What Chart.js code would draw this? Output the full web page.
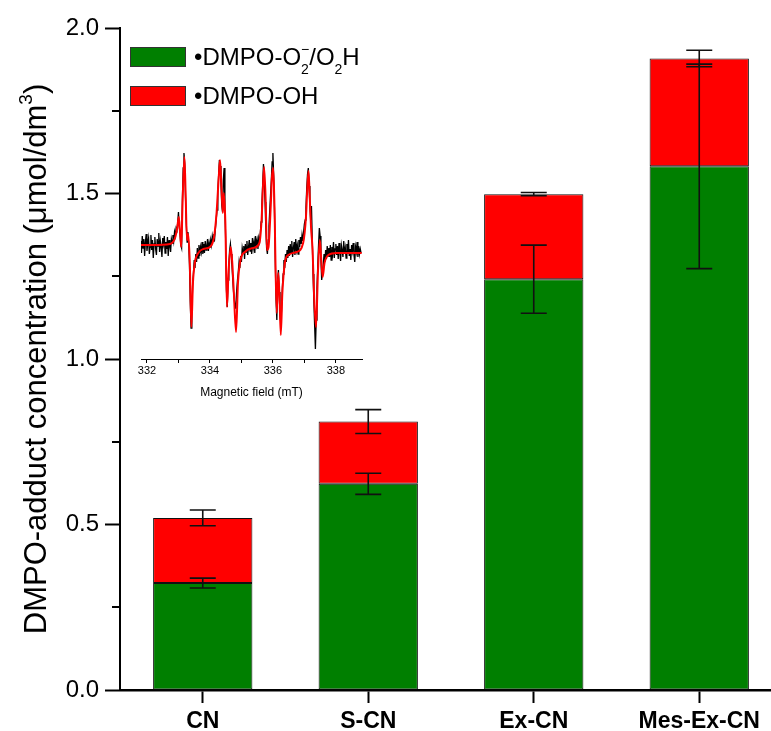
<!DOCTYPE html>
<html>
<head>
<meta charset="utf-8">
<script src="https://cdn.jsdelivr.net/npm/chart.js@4.4.1/dist/chart.umd.min.js"></script>
<style>
  html, body { margin: 0; padding: 0; overflow: hidden; background: #fff; }
  #wrap { position: relative; width: 771px; height: 731px; overflow: hidden; }
  #main { position: absolute; left: 0; top: 0; }
  #inset { position: absolute; left: 120px; top: 140px; }
</style>
</head>
<body>
<div id="wrap">
  <canvas id="main" width="782" height="731"></canvas>
  <canvas id="inset" width="260" height="260"></canvas>
</div>
<script>
const FONT = "'Liberation Sans', Arial, sans-serif";
Chart.defaults.font.family = FONT;
Chart.defaults.color = "#000";

// spin-trap adduct concentrations, umol/dm3
const samples = ["CN", "S-CN", "Ex-CN", "Mes-Ex-CN"];
const superoxide = [0.323, 0.623, 1.241, 1.582];
const hydroxyl = [0.197, 0.188, 0.257, 0.326];
const superoxideErr = [0.015, 0.032, 0.103, 0.309];
const totalErr = [0.024, 0.036, 0.005, 0.025];
const yTicks = [0, 0.5, 1.0, 1.5, 2.0];
const yMinorTicks = [0.25, 0.75, 1.25, 1.75];

// EPR spectrum for the inset (field in mT, signal in arb. units)
const fieldStart = 331.8;
const fieldStep = 0.025;
const eprMeasured = [
  9, -3, 14, 2, 11, -6, 8, 16, -1, 7,
  12, -4, 3, 15, 0, 10, -8, 6, 13, 1,
  -5, 11, 4, 17, -2, 9, 3, -7, 12, 6,
  14, -3, 8, 1, 13, -6, 10, 4, -2, 11,
  7, 15, 9, 18, 14, 22, 20, 27, 38, 24,
  16, 5, 2, 50, 82, 97, 86, 52, 25, 8,
  18, 6, -15, -52, -78, -62, -35, -24, -10, -18,
  -4, -12, 2, -8, 5, -6, 3, -2, 8, -4,
  6, -3, 9, 0, 4, 11, -1, 7, 2, 10,
  5, 14, 9, 16, 12, 22, 31, 40, 58, 74,
  90, 84, 66, 45, 38, 70, 82, 40, 10, -40,
  -57, -30, -14, 0, 6, -4, -16, -30, -42, -50,
  -58, -55, -40, -30, -22, -12, -18, -6, -12, 2,
  -3, 4, -9, 6, -2, 9, -5, 3, 10, -1,
  7, -4, 12, 2, 8, -3, 14, 5, 10, 1,
  12, 8, 17, 28, 45, 66, 86, 72, 48, 22,
  2, -4, 10, 24, 40, 55, 70, 88, 97, 74,
  40, -10, -50, -70, -30, -20, -42, -66, -72, -60,
  -38, -24, -10, -18, -4, -12, 0, -8, 4, -6,
  6, -3, 9, -7, 2, 8, -5, 11, 0, 5,
  -4, 10, 3, 13, 6, 15, 9, 18, 26, 30,
  42, 62, 76, 82, 64, 44, 30, 44, 10, -24,
  -50, -75, -99, -70, -38, -15, 5, 22, 14, -10,
  -30, -22, -14, -4, -12, 0, -9, 4, -6, 2,
  -7, 5, -10, 3, -3, 8, -8, 1, 6, -5,
  4, -9, 7, -2, -11, 5, 0, -7, 9, -4,
  2, -8, 6, -3, 10, -6, 1, -10, 5, -1,
  7, -5, -12, 3, -2, 8, -7, 4, -4, 1,
  -3
];
const fitField = [
  331.81, 332.20, 332.73, 332.89, 332.96, 333.01, 333.05, 333.09, 333.13, 333.19,
  333.23, 333.27, 333.31, 333.36, 333.41, 333.46, 333.52, 333.63, 333.79, 334.00,
  334.13, 334.21, 334.28, 334.32, 334.36, 334.41, 334.44, 334.49, 334.54, 334.59,
  334.66, 334.71, 334.76, 334.83, 334.89, 334.97, 335.11, 335.37, 335.57, 335.64,
  335.68, 335.72, 335.77, 335.81, 335.86, 335.93, 335.97, 336.01, 336.05, 336.12,
  336.17, 336.21, 336.25, 336.30, 336.38, 336.49, 336.75, 336.96, 337.05, 337.09,
  337.13, 337.17, 337.21, 337.26, 337.31, 337.37, 337.43, 337.49, 337.53, 337.58,
  337.64, 337.76, 338.02, 338.82
];
const fitSignal = [
  5, 5, 6, 12, 22, 33, 18, 3, 47, 93,
  53, 10, 16, -13, -77, -33, -13, -3, 1, 3,
  13, 37, 73, 90, 67, 37, 57, 27, -57, -23,
  3, -13, -43, -82, -33, -10, -2, 2, 7, 30,
  60, 83, 50, 0, 3, 43, 73, 82, 43, -63,
  -23, -47, -85, -43, -13, -5, -2, 7, 33, 60,
  79, 53, 23, 0, -47, -77, -23, 10, -7, -27,
  -13, -5, -3, -3
];
const fieldTicks = [332, 334, 336, 338];

// text with sub/superscripts: {t}, {sub}, {sup}
function richWidth(ctx, parts, size) {
  let w = 0;
  parts.forEach(p => {
    if (p.t) {
      ctx.font = size + "px " + FONT;
      w += ctx.measureText(p.t).width;
    } else {
      ctx.font = Math.round(size * 0.6) + "px " + FONT;
      w += Math.max(p.sub ? ctx.measureText(p.sub).width : 0, p.sup ? ctx.measureText(p.sup).width : 0);
    }
  });
  return w;
}
function drawRich(ctx, parts, x, y, size) {
  ctx.textAlign = "left";
  ctx.textBaseline = "alphabetic";
  parts.forEach(p => {
    if (p.t) {
      ctx.font = size + "px " + FONT;
      ctx.fillText(p.t, x, y);
      x += ctx.measureText(p.t).width;
    } else {
      ctx.font = Math.round(size * 0.6) + "px " + FONT;
      let w = 0;
      if (p.sub) { ctx.fillText(p.sub, x, y + size * 0.38); w = ctx.measureText(p.sub).width; }
      if (p.sup) { ctx.fillText(p.sup, x, y - size * 0.45); w = Math.max(w, ctx.measureText(p.sup).width); }
      x += w;
    }
  });
}

const legendParts = [
  [{ t: "\u2022DMPO-O" }, { sub: "2", sup: "\u2212" }, { t: "/O" }, { sub: "2" }, { t: "H" }],
  [{ t: "\u2022DMPO-OH" }]
];
const yTitleParts = [{ t: "DMPO-adduct concentration (\u03bcmol/dm" }, { sup: "3" }, { t: ")" }];

const errorBars = {
  id: "errorBars",
  afterDatasetsDraw(chart) {
    const { ctx, scales: { x, y } } = chart;
    ctx.save();
    ctx.strokeStyle = "#111";
    ctx.lineWidth = 1.6;
    samples.forEach((s, i) => {
      const cx = x.getPixelForValue(i);
      const top = superoxide[i] + hydroxyl[i];
      [[superoxide[i], superoxideErr[i]], [top, totalErr[i]]].forEach(([v, e]) => {
        const y1 = y.getPixelForValue(v + e);
        const y2 = y.getPixelForValue(v - e);
        ctx.beginPath();
        ctx.moveTo(cx, y1); ctx.lineTo(cx, y2);
        ctx.moveTo(cx - 13, y1); ctx.lineTo(cx + 13, y1);
        ctx.moveTo(cx - 13, y2); ctx.lineTo(cx + 13, y2);
        ctx.stroke();
      });
    });
    ctx.restore();
  }
};

const decorations = {
  id: "decorations",
  afterDraw(chart) {
    const { ctx, scales: { y }, chartArea } = chart;
    ctx.save();
    // minor ticks on the y axis
    ctx.strokeStyle = "#000";
    ctx.lineWidth = 2;
    yMinorTicks.forEach(v => {
      const py = Math.round(y.getPixelForValue(v));
      ctx.beginPath();
      ctx.moveTo(chartArea.left - 8, py);
      ctx.lineTo(chartArea.left, py);
      ctx.stroke();
    });
    // legend
    chart.data.datasets.forEach((ds, i) => {
      const sy = 47 + i * 39;
      ctx.fillStyle = ds.backgroundColor;
      ctx.fillRect(130, sy, 55, 19);
      ctx.strokeStyle = "#333";
      ctx.lineWidth = 1;
      ctx.strokeRect(130.5, sy + 0.5, 55, 19);
      ctx.fillStyle = "#000";
      drawRich(ctx, legendParts[i], 194, sy + 18, 24);
    });
    // y axis title
    const size = 31;
    const w = richWidth(ctx, yTitleParts, size);
    ctx.translate(46, (chartArea.top + chartArea.bottom) / 2);
    ctx.rotate(-Math.PI / 2);
    ctx.fillStyle = "#000";
    drawRich(ctx, yTitleParts, -w / 2, 0, size);
    ctx.restore();
  }
};

new Chart(document.getElementById("main"), {
  type: "bar",
  data: {
    labels: samples,
    datasets: [
      {
        label: "DMPO-O2-/O2H",
        data: superoxide,
        backgroundColor: "#007f00",
        borderColor: "#111",
        borderWidth: 1,
        borderSkipped: false,
      },
      {
        label: "DMPO-OH",
        data: hydroxyl,
        backgroundColor: "#ff0000",
        borderColor: "#111",
        borderWidth: 1,
        borderSkipped: false,
      },
    ],
  },
  options: {
    responsive: false,
    animation: false,
    layout: { padding: { top: 28, right: 0, left: 0, bottom: 0 } },
    plugins: { legend: { display: false }, tooltip: { enabled: false } },
    datasets: { bar: { categoryPercentage: 1, barPercentage: 0.6 } },
    scales: {
      x: {
        stacked: true,
        border: { color: "#000", width: 2.5 },
        grid: { offset: false, drawOnChartArea: false, tickLength: 13, tickWidth: 2, tickColor: "#000" },
        ticks: { font: { size: 23, weight: "bold" }, padding: 5, color: "#000" },
        afterFit(scale) { scale.height = 41; },
      },
      y: {
        stacked: true,
        min: 0,
        max: 2,
        border: { color: "#000", width: 2 },
        grid: { drawOnChartArea: false, tickLength: 15, tickWidth: 2, tickColor: "#000" },
        afterBuildTicks(scale) { scale.ticks = yTicks.map(v => ({ value: v })); },
        ticks: {
          font: { size: 24 },
          padding: 6,
          color: "#000",
          callback: v => Number(v).toFixed(1),
        },
        afterFit(scale) { scale.width = 120; },
      },
    },
  },
  plugins: [errorBars, decorations],
});

// inset: EPR spectrum with fitted curve
new Chart(document.getElementById("inset"), {
  type: "line",
  data: {
    datasets: [
      {
        label: "fit",
        data: fitField.map((f, i) => ({ x: f, y: fitSignal[i] })),
        borderColor: "#ff0000",
        borderWidth: 2,
        pointRadius: 0,
        cubicInterpolationMode: "monotone",
        order: 0,
      },
      {
        label: "measured",
        data: eprMeasured.map((v, i) => ({ x: fieldStart + i * fieldStep, y: v })),
        borderColor: "#000",
        borderWidth: 1.3,
        pointRadius: 0,
        tension: 0,
        order: 1,
      },
    ],
  },
  options: {
    responsive: false,
    animation: false,
    layout: { padding: { left: 21, right: 18, top: 5, bottom: 0 } },
    plugins: { legend: { display: false }, tooltip: { enabled: false } },
    scales: {
      x: {
        type: "linear",
        min: 331.81,
        max: 338.83,
        border: { color: "#000", width: 1 },
        grid: { drawOnChartArea: false, tickLength: 4, tickColor: "#000" },
        ticks: {
          stepSize: 1,
          includeBounds: false,
          font: { size: 11 },
          padding: 1,
          color: "#000",
          callback: v => (fieldTicks.includes(v) ? String(v) : ""),
        },
        title: { display: true, text: "Magnetic field (mT)", font: { size: 12 }, color: "#000", padding: { top: 6, bottom: 0 } },
        afterFit(scale) { scale.height = 41; },
      },
      y: { display: false, min: -109, max: 105 },
    },
  },
});
</script>
</body>
</html>
